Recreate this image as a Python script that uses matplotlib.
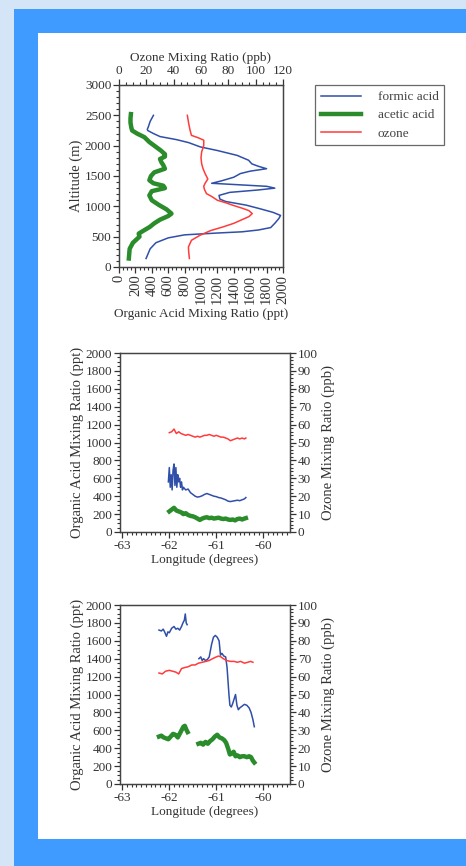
import numpy as np
import matplotlib
matplotlib.use('Agg')
import matplotlib.pyplot as plt
from matplotlib.patches import Rectangle
from matplotlib.lines import Line2D
from matplotlib.ticker import MultipleLocator

plt.rcParams['font.family'] = ['Liberation Serif', 'DejaVu Serif']
plt.rcParams['font.size'] = 9.5
plt.rcParams['axes.unicode_minus'] = False
plt.rcParams['text.color'] = '#333333'
plt.rcParams['axes.labelcolor'] = '#333333'
plt.rcParams['xtick.color'] = '#333333'
plt.rcParams['ytick.color'] = '#333333'

# --- vertical profiles (top panel) ---
alt_formic = [140, 300, 400, 480, 530, 560, 580, 610, 650, 720, 800, 850, 900, 960, 1020,
              1080, 1120, 1180, 1230, 1270, 1300, 1330, 1360, 1380, 1420, 1480, 1540, 1580,
              1620, 1660, 1700, 1760, 1840, 1920, 1980, 2050, 2100, 2150, 2200, 2250, 2270,
              2300, 2400, 2500]
formic_prof = [330, 380, 450, 600, 800, 1200, 1500, 1700, 1850, 1900, 1950, 1970, 1880, 1720,
               1550, 1300, 1230, 1220, 1350, 1700, 1900, 1800, 1400, 1130, 1250, 1400, 1480,
               1600, 1800, 1700, 1620, 1580, 1440, 1200, 990, 850, 700, 500, 420, 350, 345,
               355, 380, 420]

alt_acetic = [140, 300, 400, 500, 550, 600, 660, 720, 780, 840, 880, 950, 1020, 1100, 1180,
              1250, 1300, 1340, 1380, 1430, 1500, 1560, 1620, 1680, 1720, 1780, 1820, 1860,
              1920, 1980, 2060, 2140, 2200, 2250, 2300, 2380, 2450, 2520]
acetic_prof = [120, 130, 170, 250, 240, 300, 375, 430, 500, 600, 640, 580, 490, 400, 370,
               400, 560, 540, 420, 370, 390, 430, 560, 540, 520, 500, 560, 560, 510, 450,
               370, 310, 220, 160, 150, 140, 140, 145]

alt_ozone = [140, 250, 330, 440, 520, 600, 660, 720, 780, 830, 880, 930, 970, 1020, 1060,
             1100, 1160, 1210, 1280, 1330, 1380, 1450, 1540, 1620, 1700, 1800, 1900, 2000,
             2090, 2130, 2170, 2255, 2365, 2500]
ozone_prof = [51.5, 51, 50.8, 53, 59, 67, 76, 84, 90, 95, 97.5, 95, 90, 83, 78, 72, 68, 64,
              62.5, 62, 63, 65, 63, 61.5, 60.5, 60, 60.5, 62, 62, 58, 53, 52, 51, 50]

# --- flight leg 1 (middle panel) ---
lon_formic_1 = [-62.02, -62.0, -61.98, -61.96, -61.94, -61.92, -61.9, -61.88, -61.86, -61.84,
                -61.82, -61.8, -61.78, -61.76, -61.74, -61.72, -61.7, -61.65, -61.6, -61.55,
                -61.5, -61.45, -61.4, -61.35, -61.3, -61.25, -61.2, -61.15, -61.1, -61.05,
                -61.0, -60.95, -60.9, -60.85, -60.8, -60.75, -60.7, -60.65, -60.6, -60.55,
                -60.5, -60.45, -60.4, -60.37]
formic_1 = [560, 720, 500, 640, 470, 690, 760, 520, 720, 500, 640, 560, 600, 500, 560, 470,
            500, 470, 480, 440, 420, 400, 390, 395, 405, 420, 430, 420, 410, 400, 395, 385,
            380, 370, 360, 345, 340, 345, 350, 355, 350, 360, 370, 385]

lon_1 = [-62.0, -61.95, -61.9, -61.85, -61.8, -61.75, -61.7, -61.65, -61.6, -61.55, -61.5,
         -61.45, -61.4, -61.35, -61.3, -61.25, -61.2, -61.15, -61.1, -61.05, -61.0, -60.95,
         -60.9, -60.85, -60.8, -60.75, -60.7, -60.65, -60.6, -60.55, -60.5, -60.45, -60.4,
         -60.37]
acetic_1 = [230, 250, 270, 240, 230, 220, 200, 210, 190, 180, 175, 165, 150, 135, 150, 160,
            165, 155, 160, 150, 155, 160, 150, 145, 150, 140, 135, 140, 130, 145, 150, 140,
            150, 155]
ozone_1 = [55.5, 56, 57.5, 55, 56, 55, 54.5, 54, 54.5, 54, 53.5, 53, 53.5, 53, 53.5, 54, 54,
           54.5, 54, 53.5, 54, 53.5, 53, 53, 52.5, 52, 51, 51.5, 52, 52.5, 52, 52.5, 52, 52.5]

# --- flight leg 2 (bottom panel), nan marks the data gap ---
lon_formic_2 = [-62.22, -62.17, -62.13, -62.1, -62.06, -62.03, -62.0, -61.95, -61.9, -61.86,
                -61.82, -61.78, -61.74, -61.71, -61.68, -61.66, -61.64, -61.62, np.nan,
                -61.37, -61.33, -61.3, -61.27, -61.23, -61.19, -61.15, -61.1, -61.06, -61.02,
                -60.98, -60.94, -60.91, -60.88, -60.84, -60.8, -60.77, -60.75, -60.73, -60.71,
                -60.68, -60.65, -60.62, -60.59, -60.56, -60.53, -60.5, -60.45, -60.4, -60.35,
                -60.3, -60.26, -60.22, -60.19]
formic_2 = [1720, 1710, 1730, 1700, 1650, 1700, 1690, 1740, 1760, 1730, 1740, 1720, 1760, 1800,
            1830, 1900, 1800, 1780, np.nan,
            1400, 1420, 1380, 1400, 1380, 1390, 1420, 1560, 1640, 1660, 1640, 1600, 1440, 1460,
            1430, 1420, 1300, 1150, 1000, 880, 860, 900, 950, 1000, 880, 830, 850, 870, 890,
            880, 850, 800, 720, 640]

lon_acetic_2 = [-62.22, -62.17, -62.12, -62.07, -62.02, -61.97, -61.92, -61.87, -61.82, -61.78,
                -61.74, -61.7, -61.67, -61.64, -61.61, np.nan,
                -61.38, -61.33, -61.28, -61.23, -61.18, -61.13, -61.08, -61.03, -60.98, -60.93,
                -60.88, -60.83, -60.79, -60.75, -60.71, -60.67, -60.63, -60.59, -60.55, -60.5,
                -60.45, -60.4, -60.35, -60.3, -60.26, -60.22, -60.19]
acetic_2 = [530, 540, 520, 510, 500, 530, 560, 550, 520, 560, 600, 640, 650, 610, 580, np.nan,
            450, 460, 440, 470, 450, 480, 500, 530, 550, 520, 510, 490, 460, 400, 330, 340,
            360, 310, 320, 300, 310, 310, 300, 310, 300, 260, 240]

lon_ozone_2 = [-62.22, -62.15, -62.08, -62.0, -61.93, -61.86, -61.8, -61.74, -61.68, -61.6,
               -61.52, -61.45, -61.38, -61.3, -61.22, -61.15, -61.08, -61.0, -60.95, -60.9,
               -60.85, -60.78, -60.7, -60.62, -60.55, -60.48, -60.4, -60.33, -60.27, -60.22]
ozone_2 = [62, 61.5, 63, 63.5, 63, 62.5, 61.5, 64.5, 65, 65.5, 66.5, 66.5, 67.5, 68, 68.5, 69,
           70, 71, 71.5, 71, 70, 69, 68.5, 68.5, 68, 68.5, 67.5, 68, 68.5, 68]

BLUE = '#2f4fa8'
GREEN = '#2a8c2a'
RED = '#ff3b3b'
VSIZE = 10.5  # vertical text looks taller in the scan

W, H = 466, 866
fig = plt.figure(figsize=(W / 100, H / 100), dpi=100)
fig.patch.set_facecolor('#d5e5f8')
fig.add_artist(Rectangle((14 / W, 0), 1, 1 - 9 / H, transform=fig.transFigure,
                         facecolor='#3f9bff', edgecolor='none', zorder=-2))
fig.add_artist(Rectangle((38 / W, 1 - 839 / H), 1, (839 - 33) / H, transform=fig.transFigure,
                         facecolor='white', edgecolor='none', zorder=-1))


def px_axes(left, top, right, bottom):
    return fig.add_axes([left / W, 1 - bottom / H, (right - left) / W, (bottom - top) / H])


def style_ticks(ax):
    ax.tick_params(which='major', direction='out', length=4, width=0.9, pad=1.5)
    ax.tick_params(which='minor', direction='out', length=2.5, width=0.8)
    for s in ax.spines.values():
        s.set_linewidth(0.9)
        s.set_color('#444444')


# top panel
ax1 = px_axes(119, 85, 283, 267)
ax1.plot(formic_prof, alt_formic, color=BLUE, lw=1.1)
ax1.plot(acetic_prof, alt_acetic, color=GREEN, lw=3.2)
ax1.set_xlim(0, 2000)
ax1.set_ylim(0, 3000)
ax1.xaxis.set_major_locator(MultipleLocator(200))
ax1.xaxis.set_minor_locator(MultipleLocator(50))
ax1.yaxis.set_major_locator(MultipleLocator(500))
ax1.yaxis.set_minor_locator(MultipleLocator(100))
ax1.tick_params(axis='x', labelrotation=90, labelsize=VSIZE)
ax1.set_xlabel('Organic Acid Mixing Ratio (ppt)', labelpad=3)
ax1.set_ylabel('Altitude (m)', labelpad=1, fontsize=VSIZE)
style_ticks(ax1)

ax1t = ax1.twiny()
ax1t.plot(ozone_prof, alt_ozone, color=RED, lw=1.1)
ax1t.set_xlim(0, 120)
ax1t.xaxis.set_major_locator(MultipleLocator(20))
ax1t.xaxis.set_minor_locator(MultipleLocator(5))
ax1t.set_xlabel('Ozone Mixing Ratio (ppb)', labelpad=3)
style_ticks(ax1t)


def leg_panel(top, bottom, right, lon_f, f, lon_a, a, lon_o, o):
    ax = px_axes(120, top, right, bottom)
    ax.plot(lon_f, f, color=BLUE, lw=1.1)
    ax.plot(lon_a, a, color=GREEN, lw=3.2)
    ax.set_xlim(-63.05, -59.43)
    ax.set_ylim(0, 2000)
    ax.xaxis.set_major_locator(MultipleLocator(1))
    ax.xaxis.set_minor_locator(MultipleLocator(0.1))
    ax.yaxis.set_major_locator(MultipleLocator(200))
    ax.yaxis.set_minor_locator(MultipleLocator(50))
    ax.set_xlabel('Longitude (degrees)', labelpad=2)
    ax.set_ylabel('Organic Acid Mixing Ratio (ppt)', labelpad=1, fontsize=VSIZE)
    style_ticks(ax)
    axr = ax.twinx()
    axr.plot(lon_o, o, color=RED, lw=1.1)
    axr.set_ylim(0, 100)
    axr.yaxis.set_major_locator(MultipleLocator(10))
    axr.yaxis.set_minor_locator(MultipleLocator(2))
    axr.set_ylabel('Ozone Mixing Ratio (ppb)', rotation=90, labelpad=3, fontsize=VSIZE)
    style_ticks(axr)
    return ax, axr


leg_panel(353, 532, 290, lon_formic_1, formic_1, lon_1, acetic_1, lon_1, ozone_1)
leg_panel(605, 784, 290, lon_formic_2, formic_2, lon_acetic_2, acetic_2, lon_ozone_2, ozone_2)

handles = [Line2D([], [], color=BLUE, lw=1.1),
           Line2D([], [], color=GREEN, lw=3.2),
           Line2D([], [], color=RED, lw=1.1)]
leg = fig.legend(handles, ['formic acid', 'acetic acid', 'ozone'],
                 loc='upper left', bbox_to_anchor=(315 / W, 1 - 85 / H),
                 frameon=True, fancybox=False, handlelength=3.0, handletextpad=1.3,
                 borderpad=0.45, labelspacing=0.45, borderaxespad=0, fontsize=9.5)
leg.get_frame().set_edgecolor('#444444')
leg.get_frame().set_linewidth(0.9)
for t in leg.get_texts():
    t.set_color('#444444')

fig.savefig('out.png', dpi=100, facecolor=fig.get_facecolor())
